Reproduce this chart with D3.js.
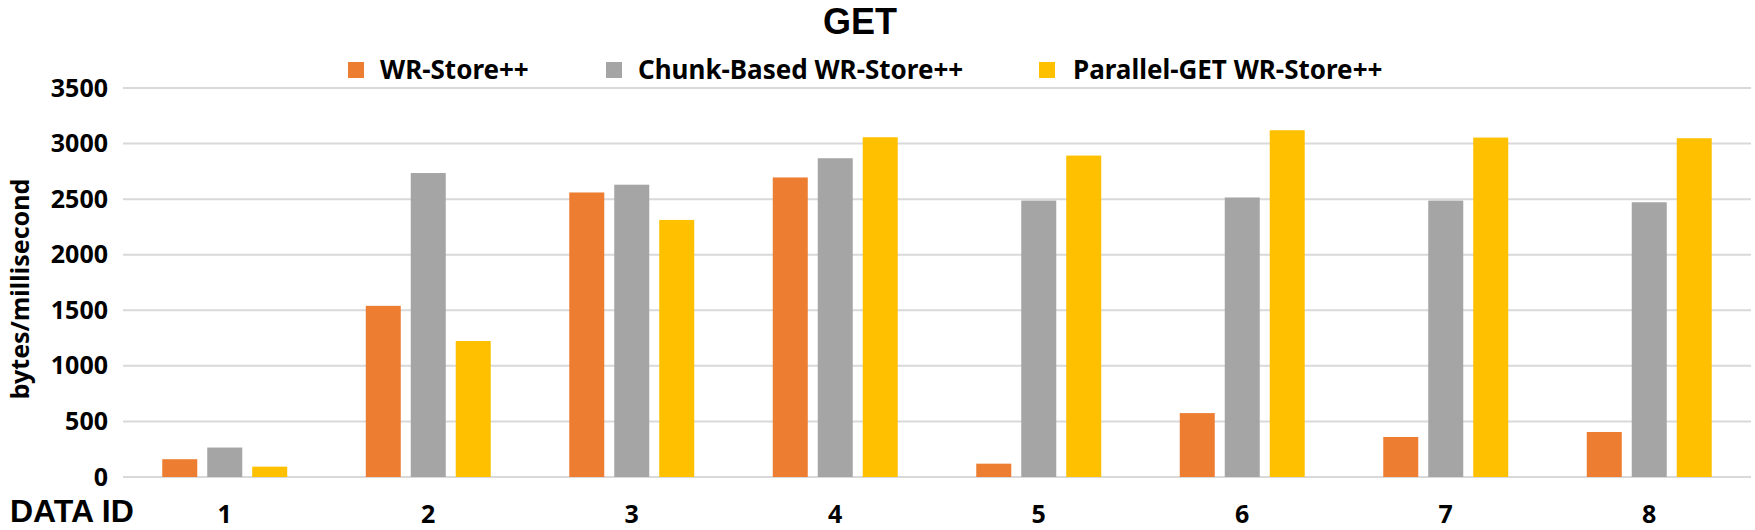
<!DOCTYPE html>
<html>
<head>
<meta charset="utf-8">
<script src="https://cdn.jsdelivr.net/npm/d3@7"></script>
<style>
  body { margin: 0; background: #fff; }
  text { font-family: "Noto Sans", "Open Sans", sans-serif; font-weight: bold; fill: #000; }
</style>
</head>
<body>
<div id="chart"></div>
<script>
var svgWidth = 1755;
var svgHeight = 530;

// data
var dataIds = ["1", "2", "3", "4", "5", "6", "7", "8"];
var seriesNames = ["WR-Store++", "Chunk-Based WR-Store++", "Parallel-GET WR-Store++"];
var wrStore = [160, 1540, 2560, 2695, 120, 575, 360, 405];
var chunkBased = [265, 2735, 2630, 2868, 2487, 2515, 2487, 2472];
var parallelGet = [93, 1224, 2313, 3057, 2892, 3120, 3054, 3048];
var yTicks = [0, 500, 1000, 1500, 2000, 2500, 3000, 3500];

var colors = ["#ED7D31", "#A5A5A5", "#FFC000"];

var plot = { left: 123, right: 1751, top: 88, bottom: 477 };

var svg = d3.select("#chart")
  .append("svg")
  .attr("width", svgWidth)
  .attr("height", svgHeight);

var rows = dataIds.map(function(id, i) {
    return { id: id, values: [wrStore[i], chunkBased[i], parallelGet[i]] };
});

var x0 = d3.scaleBand()
    .domain(dataIds)
    .range([plot.left, plot.right])
    .padding(0);

var x1 = d3.scaleBand()
    .domain([0, 1, 2])
    .range([0, x0.bandwidth()])
    .paddingInner(0.222)
    .paddingOuter(0.873);

var y = d3.scaleLinear()
    .domain([0, 3500])
    .range([plot.bottom, plot.top]);

// gridlines
svg.append("g")
    .selectAll("line")
    .data(yTicks)
    .enter()
    .append("line")
    .attr("x1", plot.left)
    .attr("x2", plot.right)
    .attr("y1", function(d) { return y(d); })
    .attr("y2", function(d) { return y(d); })
    .attr("stroke", "#d9d9d9")
    .attr("stroke-width", 2);

// y tick labels
var leftAxis = d3.axisLeft(y)
    .tickValues(yTicks)
    .tickFormat(d3.format("d"))
    .tickSize(0)
    .tickPadding(0);
var yAxisG = svg.append("g")
    .attr("transform", "translate(108, 0)")
    .call(leftAxis);
yAxisG.select(".domain").remove();
yAxisG.selectAll("text")
    .attr("font-size", "25px")
    .style("font-family", "\"Noto Sans\", sans-serif")
    .style("font-weight", "bold")
    .attr("fill", "#000");

// bars
var groups = svg.append("g")
    .selectAll("g")
    .data(rows)
    .enter()
    .append("g")
    .attr("transform", function(d) { return "translate(" + x0(d.id) + ",0)"; });

groups.selectAll("rect")
    .data(function(d) { return d.values; })
    .enter()
    .append("rect")
    .attr("x", function(d, i) { return x1(i); })
    .attr("width", x1.bandwidth())
    .attr("y", function(d) { return y(d); })
    .attr("height", function(d) { return y(0) - y(d); })
    .attr("fill", function(d, i) { return colors[i]; });

// x labels
var bottomAxis = d3.axisBottom(x0).tickSize(0).tickPadding(0);
var xAxisG = svg.append("g")
    .attr("transform", "translate(0, 505)")
    .call(bottomAxis);
xAxisG.select(".domain").remove();
xAxisG.selectAll("text")
    .attr("font-size", "25px")
    .style("font-family", "\"Noto Sans\", sans-serif")
    .style("font-weight", "bold")
    .attr("fill", "#000");

svg.append("text")
    .attr("x", 10)
    .attr("y", 522)
    .attr("font-size", "32px")
    .style("font-family", "\"Liberation Sans\", Arial, sans-serif")
    .text("DATA ID");

// y axis title
svg.append("text")
    .attr("transform", "translate(29, 289) rotate(-90)")
    .attr("text-anchor", "middle")
    .attr("font-size", "25px")
    .text("bytes/millisecond");

// title
svg.append("text")
    .attr("x", 860)
    .attr("y", 34)
    .attr("text-anchor", "middle")
    .attr("font-size", "36px")
    .style("font-family", "\"Liberation Sans\", Arial, sans-serif")
    .text("GET");

// legend
var legendPos = [{ box: 348, label: 380 }, { box: 606, label: 638 }, { box: 1039, label: 1073 }];
var legend = svg.append("g")
    .selectAll("g")
    .data(seriesNames)
    .enter()
    .append("g");

legend.append("rect")
    .attr("x", function(d, i) { return legendPos[i].box; })
    .attr("y", 62)
    .attr("width", 16)
    .attr("height", 16)
    .attr("fill", function(d, i) { return colors[i]; });

legend.append("text")
    .attr("x", function(d, i) { return legendPos[i].label; })
    .attr("y", 79)
    .attr("font-size", "26px")
    .text(function(d) { return d; });
</script>
</body>
</html>
